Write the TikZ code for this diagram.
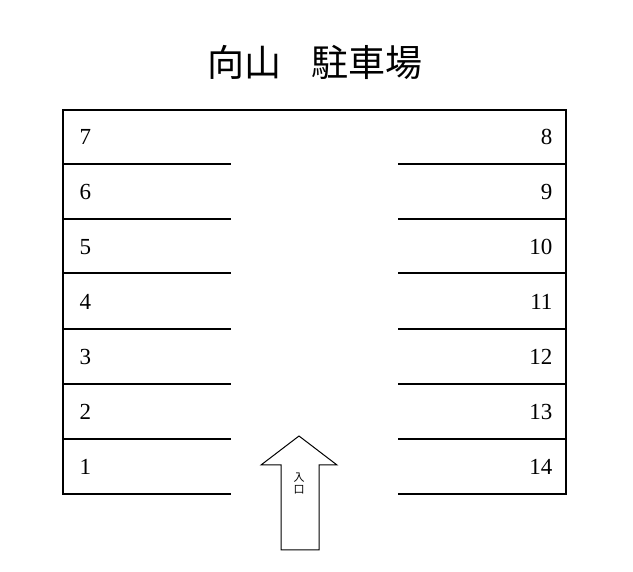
\documentclass[tikz,border=0pt]{standalone}
\usepackage{fontspec}
\newfontfamily\cjk{Noto Sans CJK JP}
\newfontfamily\numfont{Liberation Serif}
\begin{document}
\begin{tikzpicture}[x=1pt,y=-1pt,
  wall/.style={line width=2.5pt},
  num/.style={font=\numfont\fontsize{23}{23}\selectfont}]
\useasboundingbox (0,0) rectangle (633,572);
\node[font=\cjk\fontsize{37}{37}\selectfont] (title) at (315,62) {向山\hspace{30pt}駐車場};
\draw[wall] (231,110) -- (63,110) -- (63,494) -- (231,494);
\draw[wall] (231,110) -- (398,110);
\draw[wall] (398,110) -- (566,110) -- (566,494) -- (398,494);
\foreach \y in {164,219,273,329,384,439}{
  \draw[wall] (63,\y) -- (231,\y);
  \draw[wall] (398,\y) -- (566,\y);
}
\foreach \n/\y in {7/137,6/192,5/247,4/302,3/357,2/412,1/467}
  \node[num,anchor=west] (l\n) at (76,\y) {\n};
\foreach \n/\y in {8/137,9/192,10/247,11/302,12/357,13/412,14/467}
  \node[num,anchor=east] (r\n) at (556,\y) {\n};
\draw[line width=1pt] (281,550) -- (281,465) -- (261,465) -- (299,436) -- (337,465) -- (319,465) -- (319,550) -- cycle;
\node[font=\cjk\fontsize{11}{12}\selectfont,align=center] (entry) at (299,484) {入\\口};
\end{tikzpicture}
\end{document}
